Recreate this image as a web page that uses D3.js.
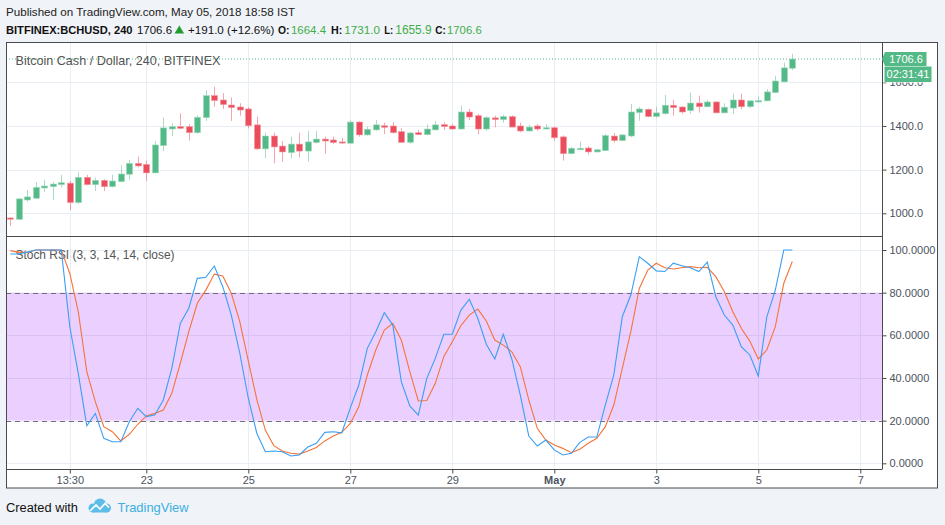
<!DOCTYPE html>
<html><head><meta charset="utf-8">
<script src="https://cdn.jsdelivr.net/npm/d3@7"></script>
<style>
html,body{margin:0;padding:0;background:#f0f3f7;}
svg{display:block;font-family:"Liberation Sans",Arial,sans-serif;}
</style></head><body>
<svg id="c" width="945" height="525"></svg>
<script>
// ---------- data ----------
const opens  = [978.6,972.6,1061,1069,1116,1122,1131,1138,1049,1165,1131,1151,1122,1145,1179,1229,1224,1185,1310,1386,1397,1397,1369,1438,1539,1519,1496,1487,1478,1405,1295,1354,1308,1278,1317,1285,1324,1340,1336,1327,1321,1418,1359,1382,1401,1400,1374,1325,1369,1360,1382,1406,1400,1386,1464,1447,1386,1437,1429,1443,1400,1377,1400,1386,1392,1350,1273,1291,1299,1281,1287,1354,1333,1354,1461,1476,1443,1456,1495,1487,1470,1505,1488,1510,1460,1482,1519,1488,1510,1515,1553,1602,1664.4];
const highs  = [982,1070,1107,1143,1154,1143,1176,1148,1188,1176,1162,1156,1176,1221,1244,1260,1241,1331,1438,1412,1458,1408,1449,1564,1580,1550,1530,1504,1486,1443,1369,1369,1331,1350,1369,1377,1377,1351,1351,1345,1426,1422,1397,1427,1415,1418,1389,1372,1382,1408,1423,1417,1409,1493,1478,1455,1445,1447,1452,1449,1415,1406,1409,1409,1397,1357,1304,1328,1307,1295,1363,1368,1363,1501,1488,1480,1488,1542,1519,1490,1553,1539,1519,1513,1504,1548,1548,1519,1534,1569,1630,1690,1731.0];
const lows   = [942,968,1053,1066,1098,1060,1119,1015,1043,1128,1102,1102,1118,1142,1153,1211,1148,1183,1285,1354,1385,1333,1365,1423,1488,1477,1423,1447,1389,1291,1252,1229,1237,1252,1257,1237,1320,1273,1318,1318,1318,1351,1355,1378,1363,1365,1322,1318,1358,1357,1380,1382,1384,1384,1427,1362,1378,1394,1415,1393,1371,1375,1378,1384,1333,1241,1270,1290,1268,1278,1285,1324,1330,1348,1424,1440,1438,1452,1447,1456,1456,1461,1485,1458,1458,1455,1476,1482,1508,1513,1550,1600,1655.9];
const closes = [972.6,1066,1075,1119,1125,1134,1140,1049,1165,1131,1151,1122,1148,1180,1229,1217,1185,1313,1391,1397,1389,1369,1440,1539,1516,1498,1484,1473,1401,1295,1354,1304,1281,1317,1285,1327,1340,1331,1324,1322,1418,1359,1385,1405,1394,1369,1325,1368,1360,1386,1405,1397,1386,1464,1441,1386,1438,1429,1443,1395,1377,1395,1386,1392,1346,1273,1298,1298,1281,1291,1356,1333,1359,1464,1478,1443,1460,1495,1484,1464,1505,1488,1510,1460,1486,1519,1488,1515,1516,1556,1606,1666,1706.6];
const stochK = [98.1,98.1,99,100,100,100,100,64,42,17.6,23.4,11.7,10.1,10.1,19.5,25.8,21.9,22.6,29.7,44.5,65.6,72.7,86.7,87.2,92.5,82.8,69.5,51.6,30.5,14.1,5.4,5.8,5.4,3.4,3.9,7.6,9.4,14.5,14.8,14.3,26,36.7,53.9,61.7,70.6,64.8,38.3,26.9,22.6,39.8,49.2,60.5,60.5,71.7,76.9,68,55.8,48.9,60.5,48.9,32,12.8,8.1,10.9,6.3,3.9,4.7,9.8,12.3,12.3,27.3,41.4,68.7,78.9,96.9,93.8,90.2,89.9,93.8,92.6,91.7,89.9,94.3,78.1,69.5,64.8,54.7,50.8,40.9,68.7,81.2,100,100];
const stochD = [99.7,98.9,98.9,100,100,100,100,89,71,43,28.9,17.2,14.8,10.5,13.6,18.3,22.2,23.4,25,32.8,46.9,61.7,75,81.2,88.7,87.8,79.7,66.4,48,30,15.6,8.3,5.8,4.7,4.3,5.8,7.4,10.5,12.8,14.5,18.7,26.5,41.4,53.1,62.5,65.6,57.8,43,29.2,29.4,37.5,50,57,64.5,69.5,72.3,66.7,57.8,55.4,52.3,45.3,29.7,16.4,10.9,8.6,7,5,6.6,9.4,11.7,17.2,27.3,44.5,61.7,82,90.6,93.8,91.7,91.1,91.7,92.2,91.7,91.9,87.5,80.5,71.1,63.3,57.3,48.9,53.1,64.1,84.4,94.6];
const priceTicks = [1000,1200,1400,1600];
const rsiTicks = [0,20,40,60,80,100];
const timeTickIdx = [7,16,28,40,52,64,76,88,100];
const timeTickLabels = ["13:30","23","25","27","29","May","3","5","7"];
const lastPrice = 1706.6;

// ---------- layout ----------
const L=6, R=882, RB=938, T=43, P1=236.5, P2=469, B=488;
const svg=d3.select("#c");
const x=d3.scaleLinear().domain([0,100]).range([10.3,860.3]);
const yP=d3.scaleLinear().domain([1000,1600]).range([213.3,82.3]);
const yR=d3.scaleLinear().domain([0,100]).range([463.3,250]);
const up="#53b987", dn="#eb4d5c", gridC="#e8eef3", axC="#4a4a4a", txtC="#4c525e";

// fit a text to a target width: shrink the font (not below minSize) toward its natural width, lock with textLength
function fitText(sel, target, maxSize, minSize){
  minSize = minSize || 0;
  sel.each(function(){
    const t=d3.select(this);
    t.attr("font-size",maxSize);
    const w=this.getComputedTextLength();
    const fs=Math.max(minSize, Math.min(maxSize, maxSize*target/w));
    t.attr("font-size",fs).attr("textLength",target).attr("lengthAdjust","spacingAndGlyphs");
  });
}

// header
fitText(svg.append("text").attr("x",6).attr("y",15.5).attr("fill","#222")
  .text("Published on TradingView.com, May 05, 2018 18:58 IST"),289,13);
const g2=[
  {t:"BITFINEX:BCHUSD, 240",x:6,w:126.5,b:true,c:"#111"},
  {t:"1706.6",x:137,w:35,b:false,c:"#111"},
  {t:"+191.0 (+12.6%)",x:188,w:86.5,b:false,c:"#111"},
  {t:"O:",x:278,w:11.5,b:true,c:"#111"},
  {t:"1664.4",x:291,w:35,b:false,c:"#3fae49"},
  {t:"H:",x:331,w:11.3,b:true,c:"#111"},
  {t:"1731.0",x:344.3,w:35.7,b:false,c:"#3fae49"},
  {t:"L:",x:384.3,w:9,b:true,c:"#111"},
  {t:"1655.9",x:395.3,w:36.3,b:false,c:"#3fae49"},
  {t:"C:",x:435.3,w:10.5,b:true,c:"#111"},
  {t:"1706.6",x:447,w:34.7,b:false,c:"#3fae49"}
];
svg.selectAll("text.h2").data(g2).enter().append("text").attr("class","h2")
  .attr("x",d=>d.x).attr("y",33.5)
  .attr("font-weight",d=>d.b?"bold":"normal").attr("fill",d=>d.c).text(d=>d.t)
  .each(function(d){fitText(d3.select(this),d.w,12.5,11.3);});
svg.append("path").attr("d","M174.5,33.5 L179.3,25.5 L184.1,33.5 Z").attr("fill","#1f9e2c");

// chart frame background
svg.append("rect").attr("x",L+0.5).attr("y",T-0.5).attr("width",RB-L-1).attr("height",B-T+0.5).attr("fill","#fff");

// clips
const defs=svg.append("defs");
defs.append("clipPath").attr("id","cp1").append("rect").attr("x",L).attr("y",T).attr("width",R-L).attr("height",P1-T);
defs.append("clipPath").attr("id","cp2").append("rect").attr("x",L).attr("y",P1).attr("width",R-L).attr("height",P2-P1);
defs.append("clipPath").attr("id","cpAx").append("rect").attr("x",R).attr("y",82.6).attr("width",RB-R).attr("height",B-82.6);

// grids
const grid=svg.append("g");
grid.selectAll("line.v").data(timeTickIdx).enter().append("line")
  .attr("x1",d=>Math.round(x(d))+0.5).attr("x2",d=>Math.round(x(d))+0.5)
  .attr("y1",T).attr("y2",P2).attr("stroke",gridC);
grid.selectAll("line.hp").data(priceTicks).enter().append("line")
  .attr("x1",L).attr("x2",R).attr("y1",d=>Math.round(yP(d))+0.5).attr("y2",d=>Math.round(yP(d))+0.5).attr("stroke",gridC);
grid.selectAll("line.hr").data(rsiTicks).enter().append("line")
  .attr("x1",L).attr("x2",R).attr("y1",d=>Math.round(yR(d))+0.5).attr("y2",d=>Math.round(yR(d))+0.5).attr("stroke",gridC);

// RSI band
svg.append("rect").attr("x",L).attr("width",R-L).attr("y",yR(80)).attr("height",yR(20)-yR(80))
  .attr("fill","#9915ff").attr("fill-opacity",0.2);
svg.selectAll("line.dash").data([80,20]).enter().append("line")
  .attr("x1",L).attr("x2",R).attr("y1",d=>Math.round(yR(d))+0.5).attr("y2",d=>Math.round(yR(d))+0.5)
  .attr("stroke","#6f6f7a").attr("stroke-dasharray","5,4");

// last price dotted line
svg.append("line").attr("x1",L).attr("x2",R).attr("y1",yP(lastPrice)).attr("y2",yP(lastPrice))
  .attr("stroke",up).attr("stroke-dasharray","1,2");

// legends
fitText(svg.append("text").attr("x",15.5).attr("y",64.5).attr("fill","#555")
  .text("Bitcoin Cash / Dollar, 240, BITFINEX"),205,13);
fitText(svg.append("text").attr("x",15.5).attr("y",259).attr("fill","#555")
  .text("Stoch RSI (3, 3, 14, 14, close)"),159,13);

// candles
const cg=svg.append("g").attr("clip-path","url(#cp1)");
const idx=d3.range(opens.length);
cg.selectAll("line.w").data(idx).enter().append("line")
  .attr("x1",i=>Math.round(x(i))+0.5).attr("x2",i=>Math.round(x(i))+0.5)
  .attr("y1",i=>yP(highs[i])).attr("y2",i=>yP(lows[i]))
  .attr("stroke",i=>closes[i]>=opens[i]?up:dn).attr("stroke-opacity",0.5);
cg.selectAll("rect.b").data(idx).enter().append("rect")
  .attr("x",i=>Math.round(x(i))-2.5).attr("width",6)
  .attr("y",i=>yP(Math.max(opens[i],closes[i])))
  .attr("height",i=>Math.max(1.2,Math.abs(yP(opens[i])-yP(closes[i]))))
  .attr("fill",i=>closes[i]>=opens[i]?up:dn)
  .attr("stroke",i=>closes[i]>=opens[i]?"#9fd9bd":"#f29aa3").attr("stroke-width",0.6);

// stoch lines
const rg=svg.append("g").attr("clip-path","url(#cp2)");
const line=d3.line().x((d,i)=>x(i)).y(d=>yR(d));
rg.append("path").attr("d",line(stochD)).attr("fill","none").attr("stroke","#f4743a").attr("stroke-width",1.1);
rg.append("path").attr("d",line(stochK)).attr("fill","none").attr("stroke","#3a9ef5").attr("stroke-width",1.1);

// axes frame lines
svg.append("line").attr("x1",R+0.5).attr("x2",R+0.5).attr("y1",T).attr("y2",P2).attr("stroke",axC);
svg.append("line").attr("x1",L).attr("x2",R).attr("y1",P1).attr("y2",P1).attr("stroke",axC);
svg.append("line").attr("x1",L).attr("x2",R+0.5).attr("y1",P2+0.5).attr("y2",P2+0.5).attr("stroke",axC);
svg.append("rect").attr("x",L+0.5).attr("y",T-0.5).attr("width",RB-L-1).attr("height",B-T+0.5)
  .attr("fill","none").attr("stroke",axC);

// price axis (the 1600 label sits mostly under the countdown box, as in the reference)
const pWrap=svg.append("g").attr("clip-path","url(#cpAx)");
const pAxis=pWrap.append("g").attr("transform",`translate(${R+0.5},0)`)
  .call(d3.axisRight(yP).tickValues(priceTicks).tickFormat(d3.format(".1f")).tickSize(4).tickPadding(3));
const rAxis=svg.append("g").attr("transform",`translate(${R+0.5},0)`)
  .call(d3.axisRight(yR).tickValues(rsiTicks).tickFormat(d3.format(".4f")).tickSize(4).tickPadding(3));
[pAxis,rAxis].forEach(a=>{
  a.select(".domain").remove();
  a.selectAll(".tick line").attr("stroke",axC);
  a.selectAll(".tick text").attr("fill",txtC).attr("font-size",11).attr("font-family","Liberation Sans, Arial, sans-serif");
});

// time axis
const tAxis=svg.append("g").attr("transform",`translate(0,${P2+0.5})`)
  .call(d3.axisBottom(x).tickValues(timeTickIdx).tickFormat((d,i)=>timeTickLabels[i]).tickSize(4).tickPadding(3));
tAxis.select(".domain").remove();
tAxis.selectAll(".tick line").attr("stroke",axC);
tAxis.selectAll(".tick text").attr("fill",txtC).attr("font-size",11)
  .attr("font-family","Liberation Sans, Arial, sans-serif")
  .attr("font-weight",(d,i)=>timeTickLabels[i]==="May"?"bold":"normal");

// last price labels
const ly=yP(lastPrice);
svg.append("path").attr("d",`M${R},${ly} L${R+3},${ly-7} L${R+44.5},${ly-7} L${R+44.5},${ly+7} L${R+3},${ly+7} Z`).attr("fill",up);
svg.append("text").attr("x",R+24).attr("y",ly).attr("dy","0.35em").attr("text-anchor","middle")
  .attr("font-size",11).attr("fill","#fff").text(lastPrice.toFixed(1));
svg.append("rect").attr("x",R+2.5).attr("y",ly+7.5).attr("width",47).attr("height",15.5).attr("fill",up);
svg.append("text").attr("x",R+26).attr("y",ly+15.3).attr("dy","0.35em").attr("text-anchor","middle")
  .attr("font-size",11).attr("fill","#fff").text("02:31:41");

// footer
fitText(svg.append("text").attr("x",6).attr("y",512).attr("fill","#111").text("Created with"),72,13);
const logo=svg.append("g").attr("fill","#5cbde9");
logo.append("circle").attr("cx",93).attr("cy",508).attr("r",4.5);
logo.append("circle").attr("cx",100).attr("cy",504.5).attr("r",6);
logo.append("circle").attr("cx",106.5).attr("cy",508).attr("r",4.5);
logo.append("rect").attr("x",93).attr("y",506).attr("width",13.5).attr("height",6.5);
svg.append("path").attr("d","M90,511 L96,505 L100,509 L105,503.5 L109,507.5").attr("fill","none").attr("stroke","#fff").attr("stroke-width",1.6);
fitText(svg.append("text").attr("x",117.5).attr("y",512).attr("fill","#3cb0e3").text("TradingView"),71,13);
</script>
</body></html>
